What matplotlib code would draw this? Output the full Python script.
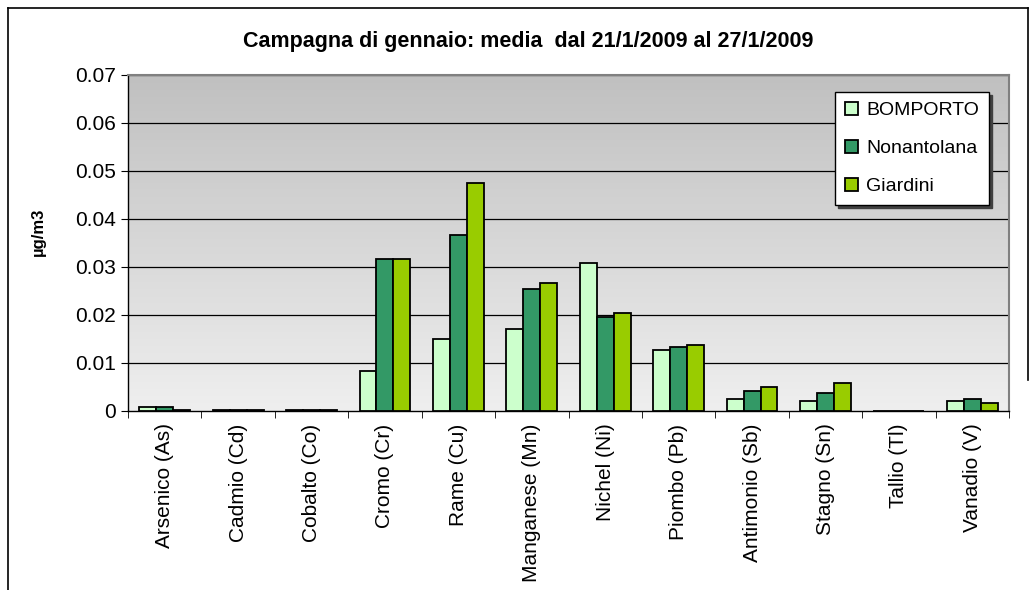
import numpy as np
import matplotlib
matplotlib.use("Agg")
import matplotlib.pyplot as plt
from matplotlib.lines import Line2D

plt.rcParams['font.family'] = ['Liberation Sans', 'DejaVu Sans']

# medie campagna di gennaio (ug/m3)
elementi = ['Arsenico (As)', 'Cadmio (Cd)', 'Cobalto (Co)', 'Cromo (Cr)', 'Rame (Cu)',
            'Manganese (Mn)', 'Nichel (Ni)', 'Piombo (Pb)', 'Antimonio (Sb)',
            'Stagno (Sn)', 'Tallio (Tl)', 'Vanadio (V)']
bomporto = [0.0008, 0.0003, 0.0003, 0.0083, 0.0149, 0.0170, 0.0308, 0.0128, 0.0025, 0.0020, 0.0, 0.0020]
nonantolana = [0.0008, 0.0003, 0.0003, 0.0317, 0.0366, 0.0254, 0.0195, 0.0133, 0.0042, 0.0038, 0.0, 0.0025]
giardini = [0.0003, 0.0002, 0.0003, 0.0317, 0.0474, 0.0266, 0.0204, 0.0137, 0.0050, 0.0058, 0.0, 0.0017]

serie = [('BOMPORTO', bomporto, '#CCFFCC'),
         ('Nonantolana', nonantolana, '#339966'),
         ('Giardini', giardini, '#99CC00')]

fig = plt.figure(figsize=(10.36, 5.9), dpi=100)
ax = fig.add_axes([128 / 1036, 179 / 590, 881 / 1036, 336 / 590])

# sfondo sfumato: grigio scuro in alto, chiaro in basso
grad = np.linspace(0, 1, 256).reshape(-1, 1)
cmap = matplotlib.colors.LinearSegmentedColormap.from_list('g', ['#c0c0c0', '#efefef'])
ax.imshow(grad, cmap=cmap, aspect='auto', origin='upper',
          extent=[-0.5, len(elementi) - 0.5, 0, 0.07], zorder=0)

x = np.arange(len(elementi))
w = 0.231
for i, (nome, val, col) in enumerate(serie):
    ax.bar(x + (i - 1) * w, val, w, color=col, edgecolor='black', linewidth=1.3,
           label=nome, zorder=3)

ax.set_xlim(-0.5, len(elementi) - 0.5)
ax.set_ylim(0, 0.07)
ax.set_yticks(np.arange(0, 0.071, 0.01))
ax.set_yticklabels(['0'] + ['%.2f' % v for v in np.arange(0.01, 0.071, 0.01)], fontsize=15)
for v in np.arange(0.01, 0.071, 0.01):
    ax.axhline(v, color='black', linewidth=0.9, zorder=1)

ax.set_xticks(x)
ax.set_xticklabels(elementi, rotation=90, fontsize=15)
ax.tick_params(axis='x', length=0, pad=9)
ax.set_xticks(np.arange(-0.5, len(elementi)), minor=True)
ax.tick_params(axis='x', which='minor', length=5, direction='out')
ax.tick_params(axis='y', length=5, direction='out', pad=4)

for s in ['left', 'bottom']:
    ax.spines[s].set_color('black')
    ax.spines[s].set_linewidth(1.0)
for s in ['top', 'right']:
    ax.spines[s].set_color('#808080')
    ax.spines[s].set_linewidth(1.5)

leg = ax.legend(loc='lower right', bbox_to_anchor=(0.977, 0.613), fontsize=14,
                frameon=True, fancybox=False, shadow={'color': '#404040', 'alpha': 1, 'ox': 2, 'oy': -2},
                handlelength=0.7, handleheight=0.7, handletextpad=0.4,
                borderpad=0.5, labelspacing=1.05, borderaxespad=0)
leg.get_frame().set_edgecolor('black')
leg.get_frame().set_linewidth(1.0)
leg.get_frame().set_facecolor('white')

fig.text(528 / 1036, (590 - 41) / 590, 'Campagna di gennaio: media  dal 21/1/2009 al 27/1/2009',
         ha='center', va='center', fontsize=15.5, fontweight='bold')
fig.text(38 / 1036, (590 - 232) / 590, 'µg/m3', rotation=90, ha='center', va='center',
         fontsize=12, fontweight='bold')

# cornice esterna del grafico
fx0, fx1, fy1 = 8 / 1036, 1028 / 1036, (590 - 8) / 590
fig.add_artist(Line2D([fx0, fx0], [0, fy1], color='black', linewidth=1.2, transform=fig.transFigure))
fig.add_artist(Line2D([fx0, fx1], [fy1, fy1], color='black', linewidth=1.2, transform=fig.transFigure))
fig.add_artist(Line2D([fx1, fx1], [fy1, (590 - 380) / 590], color='black', linewidth=1.2,
                      transform=fig.transFigure))

fig.savefig('out.png', dpi=100)
